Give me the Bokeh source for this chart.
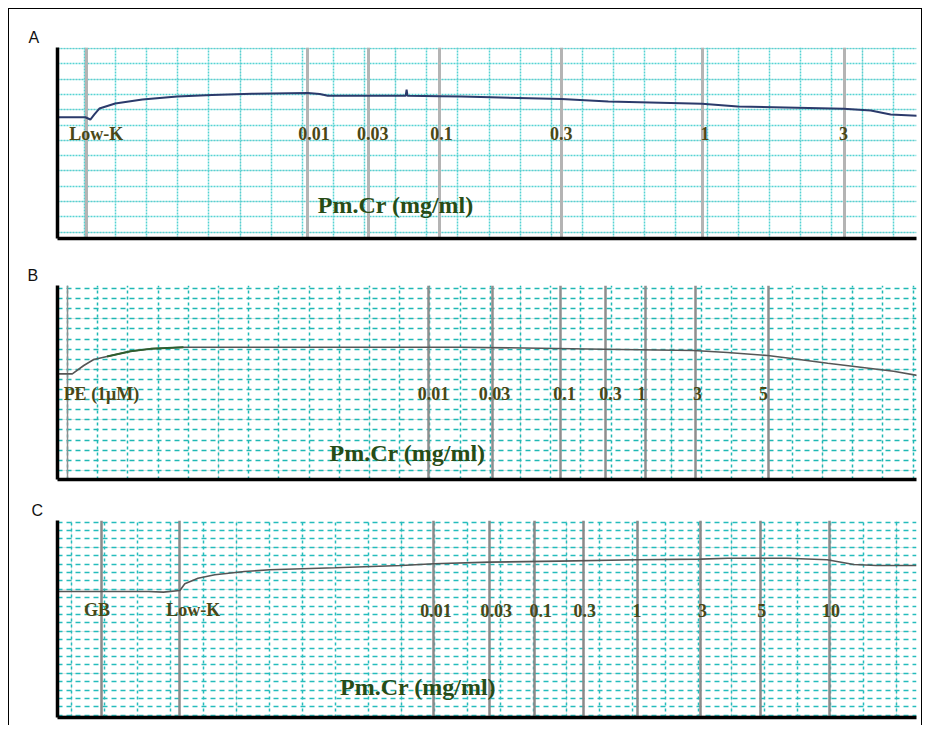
from bokeh.plotting import figure
from bokeh.layouts import column
from bokeh.models import (ColumnDataSource, Grid, SingleIntervalTicker, LinearAxis,
                          FixedTicker, Label)
from bokeh.core.properties import value
from bokeh.embed import file_html
from bokeh.resources import INLINE

# ---------------- data (time in min, tension in chart divisions) ----------------
# Panel A
a_time = [-0.9, 0.03, 0.19, 0.32, 0.48, 0.99, 1.86, 2.98, 4.10, 5.38, 7.18, 7.56, 7.82,
          10.32, 10.35, 10.38, 11.41, 12.12, 15.32, 16.83, 19.84, 20.99, 24.39, 25.26,
          25.90, 26.76]
a_tension = [7.51, 7.51, 7.36, 7.69, 8.08, 8.41, 8.67, 8.86, 8.97, 9.04, 9.10, 9.03, 8.91,
             8.91, 9.32, 8.91, 8.88, 8.86, 8.71, 8.54, 8.39, 8.21, 8.06, 7.95,
             7.69, 7.60]
a_events = [0.06, 7.18, 9.13, 11.41, 15.32, 19.84, 24.42]
a_labels = ["Low-K", "0.01", "0.03", "0.1", "0.3", "1", "3"]

# Panel B
b_time = [-0.33, 0.16, 0.54, 0.87, 1.31, 2.09, 2.75, 3.84, 13.01, 15.66, 17.75, 20.73,
          21.85, 23.18, 24.04, 25.17, 26.26, 27.35, 28.15]
b_tension = [9.55, 9.55, 10.38, 10.97, 11.27, 11.79, 12.03, 12.19, 12.19, 12.09, 11.99,
             11.86, 11.66, 11.37, 11.04, 10.60, 10.21, 9.81, 9.39]
b_events = [0.0, 11.95, 14.07, 16.32, 17.81, 19.14, 20.79, 23.21]
b_labels = ["PE (1\u03bcM)", "0.01", "0.03", "0.1", "0.3", "1", "3", "5"]

# Panel C
c_time = [-0.42, 2.34, 2.79, 3.29, 3.44, 3.84, 4.35, 5.25, 6.01, 7.99, 10.0, 10.99,
          12.67, 14.80, 17.15, 19.07, 19.91, 21.71, 22.91, 23.72, 24.41, 25.62]
c_tension = [14.75, 14.75, 14.67, 14.87, 15.67, 16.33, 16.74, 17.13, 17.33, 17.57, 17.85,
             18.05, 18.24, 18.36, 18.52, 18.60, 18.71, 18.71, 18.52, 17.96, 17.85, 17.85]
c_events = [0.90, 3.27, 10.99, 12.67, 14.05, 15.53, 17.15, 19.07, 20.90, 22.97]
c_labels = ["GB", "Low-K", "0.01", "0.03", "0.1", "0.3", "1", "3", "5", "10"]

AXIS_TITLE = "Pm.Cr (mg/ml)"

# ---------------- styling / layout ----------------
LABEL_COLOR = "#4a4716"
TITLE_COLOR = "#274c16"
FIG_W = 912

panels = [
    dict(letter="A", time=a_time, tension=a_tension, events=a_events, labels=a_labels,
         dx=[10, 6, 4, 2, 0, 3, -1], xr=(-0.865, 26.73), yr=(-0.42, 12.07),
         height=241, mb=(38, 5, 12, 46), label_y=6.44, title_xy=(10.0, 1.74),
         trace_color="#2b3a6b", trace_width=2.0, highlight=None,
         ev_color="#b4b4b4", ev_width=[3] * 7,
         grid_color="#55d3d3", xdash="2 1", ydash="2 1", grid_width=1.5,
         letter_offset=-29),
    dict(letter="B", time=b_time, tension=b_tension, events=b_events, labels=b_labels,
         dx=[34, 5, 2, 4, 5, -4, 2, -5], xr=(-0.33, 28.11), yr=(-0.91, 18.30),
         height=238, mb=(35, 5, 9, 48), label_y=7.60, title_xy=(11.26, 1.76),
         trace_color="#565656", trace_width=1.6, highlight=(4, 8, "#2e5e2e"),
         ev_color="#8e8e8e", ev_width=[1.5] + [2.5] * 7,
         grid_color="#1fb8b4", xdash="3 3", ydash="5 4", grid_width=1.5,
         letter_offset=-30),
    dict(letter="C", time=c_time, tension=c_tension, events=c_events, labels=c_labels,
         dx=[-4, 14, 2, 7, 6, 1, 0, 2, 1, 2], xr=(-0.42, 25.62), yr=(-0.25, 23.20),
         height=237, mb=(32, 1, 8, 44), label_y=12.49, title_xy=(10.51, 3.44),
         trace_color="#555555", trace_width=1.6, highlight=None,
         ev_color="#8a8a8a", ev_width=[2.5] * 10,
         grid_color="#25bcbc", xdash="3 3", ydash="5 4", grid_width=1.5,
         letter_offset=-26),
]


def make_panel(cfg):
    top, right, bottom, left = cfg["mb"]
    p = figure(width=FIG_W, height=cfg["height"], x_range=cfg["xr"], y_range=cfg["yr"],
               x_axis_location=None, y_axis_location=None, toolbar_location=None,
               output_backend="svg", title=cfg["letter"], title_location="above",
               min_border=0)
    p.min_border_top = top
    p.min_border_right = right
    p.min_border_bottom = bottom
    p.min_border_left = left
    p.outline_line_color = None
    p.background_fill_color = "white"
    p.border_fill_color = "white"

    p.title.align = "left"
    p.title.offset = cfg["letter_offset"]
    p.title.standoff = 3
    p.title.text_font = "Liberation Sans"
    p.title.text_font_size = "16px"
    p.title.text_font_style = "normal"
    p.title.text_color = "#111111"

    # chart-paper grid
    xg = Grid(dimension=0, ticker=SingleIntervalTicker(interval=1),
              grid_line_color=cfg["grid_color"], grid_line_dash=cfg["xdash"],
              grid_line_width=cfg["grid_width"])
    yg = Grid(dimension=1, ticker=SingleIntervalTicker(interval=1),
              grid_line_color=cfg["grid_color"], grid_line_dash=cfg["ydash"],
              grid_line_width=cfg["grid_width"])
    p.add_layout(xg)
    p.add_layout(yg)

    # event markers
    ev = ColumnDataSource(dict(x=cfg["events"], w=cfg["ev_width"]))
    p.vspan(x="x", line_width="w", line_color=cfg["ev_color"], source=ev)

    # trace
    p.line(cfg["time"], cfg["tension"], line_color=cfg["trace_color"],
           line_width=cfg["trace_width"])
    if cfg["highlight"]:
        i0, i1, col = cfg["highlight"]
        p.line(cfg["time"][i0:i1], cfg["tension"][i0:i1], line_color=col,
               line_width=cfg["trace_width"] + 0.3)

    # event labels
    lab = ColumnDataSource(dict(x=cfg["events"], y=[cfg["label_y"]] * len(cfg["events"]),
                                text=cfg["labels"], dx=cfg["dx"]))
    p.text(x="x", y="y", text="text", x_offset="dx", source=lab,
           text_font=value("Liberation Serif"), text_font_style="bold",
           text_font_size="18px", text_align="center", text_baseline="middle",
           text_color=LABEL_COLOR)

    # in-chart axis title
    tx, ty = cfg["title_xy"]
    p.add_layout(Label(x=tx, y=ty, text=AXIS_TITLE, text_align="center",
                       text_baseline="middle", text_font="Liberation Serif",
                       text_font_style="bold", text_font_size="24px",
                       text_color=TITLE_COLOR))

    # thick black recorder axes
    for loc in ("left", "below"):
        ax = LinearAxis(ticker=FixedTicker(ticks=[]), axis_line_width=3.5,
                        axis_line_color="black", major_tick_out=0, major_tick_in=0,
                        minor_tick_out=0, minor_tick_in=0, major_label_standoff=0)
        p.add_layout(ax, loc)
    return p


figs = [make_panel(c) for c in panels]
layout = column(*figs, spacing=0,
                styles={"margin-left": "8px", "margin-top": "8px",
                        "border-left": "1px solid black",
                        "border-top": "1px solid black",
                        "border-right": "1px solid black"})

open("out.html", "w").write(file_html(layout, INLINE))
